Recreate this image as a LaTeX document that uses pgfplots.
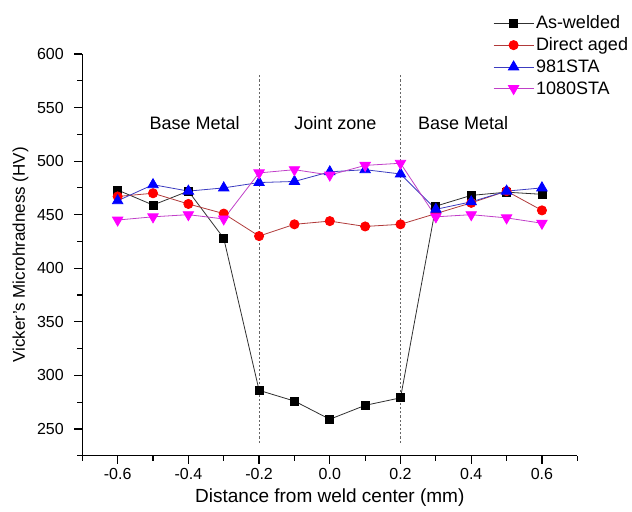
\documentclass[border=0pt]{standalone}
\usepackage{fontspec}
\setmainfont{Liberation Sans}
\usepackage{pgfplots}
\pgfplotsset{compat=1.18}
\definecolor{awline}{HTML}{303030}
\definecolor{daline}{HTML}{B03A3A}
\definecolor{daface}{HTML}{FF0000}
\definecolor{bline}{HTML}{3C3CC0}
\definecolor{bface}{HTML}{0000FF}
\definecolor{mline}{HTML}{C040C8}
\definecolor{mface}{HTML}{FF00FF}
\definecolor{zoneline}{HTML}{666666}

\begin{document}
\begin{tikzpicture}
\begin{axis}[
  scale only axis, width=495pt, height=401.7pt,
  xmin=-0.7, xmax=0.7, ymin=225, ymax=600,
  axis x line*=bottom, axis y line*=left,
  axis line style={line width=1.2pt, black},
  xtick={-0.6,-0.4,-0.2,0,0.2,0.4,0.6},
  minor xtick={-0.7,-0.5,-0.3,-0.1,0.1,0.3,0.5,0.7},
  ytick={250,300,350,400,450,500,550,600},
  minor ytick={225,275,325,375,425,475,525,575},
  tick align=outside, major tick length=8pt, minor tick length=5pt,
  every tick/.style={black, line width=1.2pt},
  xticklabel shift=1pt, yticklabel shift=7pt,
  /pgf/number format/assume math mode=true,
  ticklabel style={font=\fontsize{16}{18}\selectfont},
  xticklabel style={/pgf/number format/.cd, fixed, fixed zerofill, precision=1},
  yticklabel style={/pgf/number format/.cd, fixed, precision=0},
  xlabel={Distance from weld center (mm)},
  ylabel={Vicker's Microhradness (HV)},
  xlabel style={font=\fontsize{19}{21}\selectfont, at={(axis description cs:0.5,-0.104)}, anchor=center},
  ylabel style={font=\fontsize{17}{20}\selectfont, at={(axis description cs:-0.125,0.5)}, anchor=center},
  legend style={at={(axis description cs:0.8297,1.098)}, anchor=north west,
    draw=none, fill=none, inner sep=0pt, row sep=5.5pt,
    font=\fontsize{18}{20}\selectfont,
    nodes={inner xsep=2pt, inner ysep=1pt}},
  legend cell align=left,
  legend image code/.code={\draw[#1, mark repeat=2, mark phase=2] plot coordinates {(0pt,0pt) (20pt,0pt) (40pt,0pt)};},
]
\coordinate (sw) at (rel axis cs:0,0);
\coordinate (ne) at (rel axis cs:1,1);

% zone boundaries
\addplot[forget plot, zoneline, line width=1pt, dash pattern=on 2.2pt off 2pt] coordinates {(-0.2,237) (-0.2,582)};
\addplot[forget plot, zoneline, line width=1pt, dash pattern=on 2.2pt off 2pt] coordinates {(0.2,237) (0.2,582)};

\addplot[awline, line width=0.8pt, mark=square*, mark size=4pt, mark options={solid, fill=black, draw=black}]
  coordinates {(-0.6,473)(-0.5,459)(-0.4,472)(-0.3,428)(-0.2,286)(-0.1,276)(0,259)(0.1,272)(0.2,279)(0.3,458)(0.4,468)(0.5,471)(0.6,469)};
\addlegendentry{As-welded}
\addplot[daline, line width=0.8pt, mark=*, mark size=4.6pt, mark options={solid, fill=daface, draw=daface}]
  coordinates {(-0.6,467)(-0.5,470)(-0.4,460)(-0.3,451)(-0.2,430)(-0.1,441)(0,444)(0.1,439)(0.2,441)(0.3,451)(0.4,461)(0.5,472)(0.6,454)};
\addlegendentry{Direct aged}
\addplot[bline, line width=0.8pt, mark=triangle*, mark size=6pt, mark options={solid, fill=bface, draw=bface}]
  coordinates {(-0.6,463)(-0.5,478)(-0.4,472)(-0.3,475)(-0.2,480)(-0.1,481)(0,490)(0.1,492)(0.2,488)(0.3,455)(0.4,462)(0.5,472)(0.6,475)};
\addlegendentry{981STA}
\addplot[mline, line width=0.8pt, mark=triangle*, mark size=6pt, mark options={solid, rotate=180, fill=mface, draw=mface}]
  coordinates {(-0.6,445)(-0.5,448)(-0.4,450)(-0.3,446)(-0.2,489)(-0.1,492)(0,487)(0.1,496)(0.2,498)(0.3,448)(0.4,450)(0.5,447)(0.6,442)};
\addlegendentry{1080STA}

\node[font=\fontsize{18}{20}\selectfont] at (axis cs:-0.382,535.6) {Base Metal};
\node[font=\fontsize{18}{20}\selectfont] at (axis cs:0.016,535.6) {Joint zone};
\node[font=\fontsize{18}{20}\selectfont] at (axis cs:0.377,535.6) {Base Metal};
\end{axis}
\pgfresetboundingbox
\path[use as bounding box] ([shift={(-82.3pt,-56.3pt)}]sw) rectangle ([shift={(54.7pt,54pt)}]ne);
\end{tikzpicture}
\end{document}
